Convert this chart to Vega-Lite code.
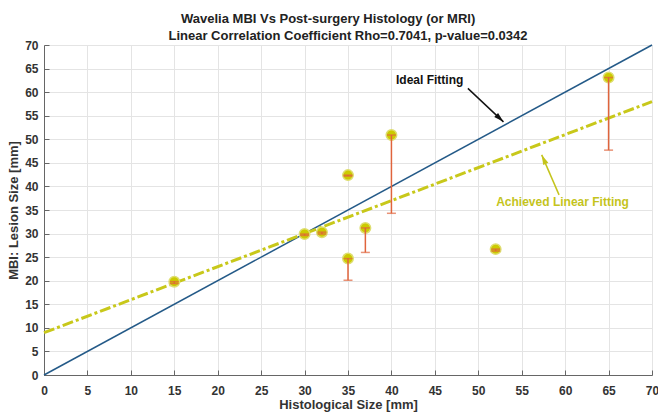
{
  "$schema": "https://vega.github.io/schema/vega-lite/v6.json",
  "width": 608,
  "height": 330,
  "autosize": "none",
  "padding": {"left": 44, "top": 45, "right": 6, "bottom": 37},
  "background": "white",
  "title": {
    "text": ["Wavelia MBI Vs Post-surgery Histology (or MRI)\u00a0\u00a0\u00a0\u00a0\u00a0\u00a0\u00a0\u00a0\u00a0\u00a0\u00a0\u200b", "Linear Correlation Coefficient Rho=0.7041, p-value=0.0342"],
    "anchor": "middle",
    "frame": "group",
    "font": "Liberation Sans",
    "fontSize": 13,
    "fontWeight": "bold",
    "color": "#222222",
    "lineHeight": 17,
    "offset": -4
  },
  "config": {
    "font": "Liberation Sans",
    "view": {"stroke": null},
    "axis": {
      "labelFont": "Liberation Sans",
      "labelFontSize": 12,
      "labelFontWeight": "bold",
      "labelColor": "#333333",
      "titleFont": "Liberation Sans",
      "titleFontSize": 13,
      "titleFontWeight": "bold",
      "titleColor": "#333333",
      "domainColor": "#666666",
      "tickColor": "#666666",
      "tickSize": -5,
      "gridColor": "#e4e4e4",
      "labelFlush": false,
      "labelOverlap": false
    },
    "axisX": {"labelPadding": 15, "titlePadding": 2},
    "axisY": {"labelPadding": 11, "titlePadding": 4}
  },
  "datasets": {
    "lesions": [
      {"histo": 15, "mbi": 19.8, "lower": 19.4},
      {"histo": 30, "mbi": 29.9, "lower": 29.6},
      {"histo": 32, "mbi": 30.3, "lower": 29.9},
      {"histo": 35, "mbi": 42.4, "lower": 42.2},
      {"histo": 35, "mbi": 24.7, "lower": 20.1},
      {"histo": 37, "mbi": 31.2, "lower": 26.0},
      {"histo": 40, "mbi": 50.9, "lower": 34.3},
      {"histo": 52, "mbi": 26.7, "lower": 26.3},
      {"histo": 65, "mbi": 63.1, "lower": 47.7}
    ],
    "ideal": [{"histo": 0, "mbi": 0}, {"histo": 70, "mbi": 70}],
    "fit": [{"histo": 0, "mbi": 8.97}, {"histo": 70, "mbi": 58.0}],
    "idealArrow": [{"histo": 48.8, "mbi": 60.8, "histo2": 52.9, "mbi2": 53.7}],
    "fitArrow": [{"histo": 59.3, "mbi": 38.2, "histo2": 57.3, "mbi2": 46.7}],
    "idealLabel": [{"histo": 44.4, "mbi": 62.6, "label": "Ideal Fitting"}],
    "fitLabel": [{"histo": 59.7, "mbi": 36.8, "label": "Achieved Linear Fitting"}]
  },
  "layer": [
    {
      "data": {"name": "ideal"},
      "mark": {"type": "line", "color": "#245a88", "strokeWidth": 1.5},
      "encoding": {
        "x": {"field": "histo", "type": "quantitative", "scale": {"domain": [0, 70], "nice": false},
              "title": "Histological Size [mm]",
              "axis": {"values": [0,5,10,15,20,25,30,35,40,45,50,55,60,65,70], "grid": true}},
        "y": {"field": "mbi", "type": "quantitative", "scale": {"domain": [0, 70], "nice": false},
              "title": "MBI: Lesion Size [mm]",
              "axis": {"values": [0,5,10,15,20,25,30,35,40,45,50,55,60,65,70], "grid": true}}
      }
    },
    {
      "data": {"name": "fit"},
      "mark": {"type": "line", "color": "#c8c81a", "strokeWidth": 3, "strokeDash": [11, 3, 3, 3]},
      "encoding": {
        "x": {"field": "histo", "type": "quantitative", "title": "Histological Size [mm]",
              "axis": {"values": [0,5,10,15,20,25,30,35,40,45,50,55,60,65,70], "grid": true}},
        "y": {"field": "mbi", "type": "quantitative", "title": "MBI: Lesion Size [mm]",
              "axis": {"values": [0,5,10,15,20,25,30,35,40,45,50,55,60,65,70], "grid": true}}
      }
    },
    {
      "data": {"name": "lesions"},
      "mark": {"type": "point", "filled": true, "size": 110, "color": "#cbcb00", "stroke": "#dede70", "strokeWidth": 1.5, "opacity": 1},
      "encoding": {
        "x": {"field": "histo", "type": "quantitative", "title": "Histological Size [mm]",
              "axis": {"values": [0,5,10,15,20,25,30,35,40,45,50,55,60,65,70], "grid": true}},
        "y": {"field": "mbi", "type": "quantitative", "title": "MBI: Lesion Size [mm]",
              "axis": {"values": [0,5,10,15,20,25,30,35,40,45,50,55,60,65,70], "grid": true}}
      }
    },
    {
      "data": {"name": "lesions"},
      "mark": {"type": "errorbar", "color": "#e0643c", "ticks": {"size": 9, "thickness": 1.5}, "rule": {"strokeWidth": 1.5}},
      "encoding": {
        "x": {"field": "histo", "type": "quantitative", "title": "Histological Size [mm]",
              "axis": {"values": [0,5,10,15,20,25,30,35,40,45,50,55,60,65,70], "grid": true}},
        "y": {"field": "lower", "type": "quantitative", "title": "MBI: Lesion Size [mm]",
              "axis": {"values": [0,5,10,15,20,25,30,35,40,45,50,55,60,65,70], "grid": true}},
        "y2": {"field": "mbi"}
      }
    },
    {
      "data": {"name": "idealArrow"},
      "mark": {"type": "rule", "color": "#111111", "strokeWidth": 1.5},
      "encoding": {
        "x": {"field": "histo", "type": "quantitative", "title": "Histological Size [mm]",
              "axis": {"values": [0,5,10,15,20,25,30,35,40,45,50,55,60,65,70], "grid": true}},
        "y": {"field": "mbi", "type": "quantitative", "title": "MBI: Lesion Size [mm]",
              "axis": {"values": [0,5,10,15,20,25,30,35,40,45,50,55,60,65,70], "grid": true}},
        "x2": {"field": "histo2"},
        "y2": {"field": "mbi2"}
      }
    },
    {
      "data": {"name": "idealArrow"},
      "mark": {"type": "point", "filled": true, "shape": "M0,0L-0.7,2.5L0.7,2.5Z", "size": 64, "angle": 133, "color": "#111111", "opacity": 1},
      "encoding": {
        "x": {"field": "histo2", "type": "quantitative", "title": "Histological Size [mm]",
              "axis": {"values": [0,5,10,15,20,25,30,35,40,45,50,55,60,65,70], "grid": true}},
        "y": {"field": "mbi2", "type": "quantitative", "title": "MBI: Lesion Size [mm]",
              "axis": {"values": [0,5,10,15,20,25,30,35,40,45,50,55,60,65,70], "grid": true}}
      }
    },
    {
      "data": {"name": "fitArrow"},
      "mark": {"type": "rule", "color": "#c4c41c", "strokeWidth": 1.5},
      "encoding": {
        "x": {"field": "histo", "type": "quantitative", "title": "Histological Size [mm]",
              "axis": {"values": [0,5,10,15,20,25,30,35,40,45,50,55,60,65,70], "grid": true}},
        "y": {"field": "mbi", "type": "quantitative", "title": "MBI: Lesion Size [mm]",
              "axis": {"values": [0,5,10,15,20,25,30,35,40,45,50,55,60,65,70], "grid": true}},
        "x2": {"field": "histo2"},
        "y2": {"field": "mbi2"}
      }
    },
    {
      "data": {"name": "fitArrow"},
      "mark": {"type": "point", "filled": true, "shape": "M0,0L-0.7,2.5L0.7,2.5Z", "size": 64, "angle": 336, "color": "#c4c41c", "opacity": 1},
      "encoding": {
        "x": {"field": "histo2", "type": "quantitative", "title": "Histological Size [mm]",
              "axis": {"values": [0,5,10,15,20,25,30,35,40,45,50,55,60,65,70], "grid": true}},
        "y": {"field": "mbi2", "type": "quantitative", "title": "MBI: Lesion Size [mm]",
              "axis": {"values": [0,5,10,15,20,25,30,35,40,45,50,55,60,65,70], "grid": true}}
      }
    },
    {
      "data": {"name": "idealLabel"},
      "mark": {"type": "text", "fontSize": 12, "fontWeight": "bold", "color": "#111111", "align": "center", "baseline": "middle"},
      "encoding": {
        "x": {"field": "histo", "type": "quantitative", "title": "Histological Size [mm]",
              "axis": {"values": [0,5,10,15,20,25,30,35,40,45,50,55,60,65,70], "grid": true}},
        "y": {"field": "mbi", "type": "quantitative", "title": "MBI: Lesion Size [mm]",
              "axis": {"values": [0,5,10,15,20,25,30,35,40,45,50,55,60,65,70], "grid": true}},
        "text": {"field": "label"}
      }
    },
    {
      "data": {"name": "fitLabel"},
      "mark": {"type": "text", "fontSize": 12, "fontWeight": "bold", "color": "#c4c41c", "align": "center", "baseline": "middle"},
      "encoding": {
        "x": {"field": "histo", "type": "quantitative", "title": "Histological Size [mm]",
              "axis": {"values": [0,5,10,15,20,25,30,35,40,45,50,55,60,65,70], "grid": true}},
        "y": {"field": "mbi", "type": "quantitative", "title": "MBI: Lesion Size [mm]",
              "axis": {"values": [0,5,10,15,20,25,30,35,40,45,50,55,60,65,70], "grid": true}},
        "text": {"field": "label"}
      }
    }
  ]
}
